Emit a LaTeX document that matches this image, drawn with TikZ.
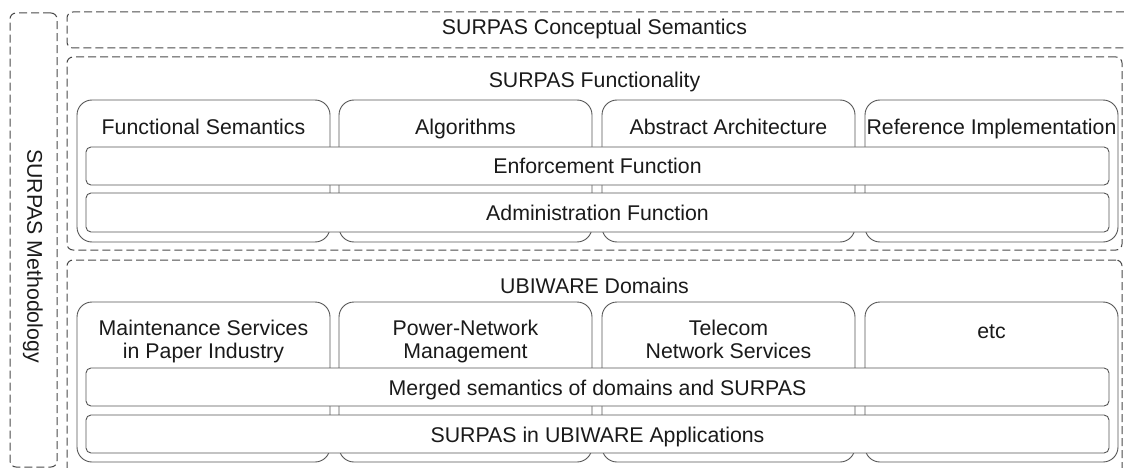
\documentclass[tikz,border=0pt]{standalone}
\usepackage{fontspec}
\setmainfont{Liberation Sans}
\definecolor{linec}{HTML}{555555}
\definecolor{dashc}{HTML}{4A4A4A}
\definecolor{txtc}{HTML}{1A1A1A}
\begin{document}
\begin{tikzpicture}[x=1pt,y=-1pt,
  base/.style={inner sep=0pt, outer sep=0pt, anchor=north west},
  dbox/.style={base, draw=dashc, dash pattern=on 8pt off 4pt, rounded corners=6pt, line width=1pt},
  col/.style={base, draw=linec, fill=white, rounded corners=15pt, line width=0.9pt, minimum width=253pt},
  bar/.style={base, draw=linec, fill=white, rounded corners=5pt, line width=0.9pt, minimum width=1023pt},
  txt/.style={text=txtc, font=\fontsize{21.3}{23}\selectfont, inner sep=0pt, outer sep=0pt, anchor=base, align=center}]
\useasboundingbox (0,0) rectangle (1124,468);
% dashed frames
\node[dbox, minimum width=47pt, minimum height=454pt] (meth) at (10,13) {};
\node[dbox, minimum width=1075pt, minimum height=36pt] (concept) at (67,12) {};
\node[dbox, minimum width=1055pt, minimum height=193pt] (func) at (67,57) {};
\node[dbox, minimum width=1055pt, minimum height=215pt] (dom) at (67,260) {};
% functionality columns
\node[col, minimum height=142pt] (fc1) at (77,100) {};
\node[col, minimum height=142pt] (fc2) at (339,100) {};
\node[col, minimum height=142pt] (fc3) at (602,100) {};
\node[col, minimum height=142pt] (fc4) at (865,100) {};
\node[bar, minimum height=38pt] (enf) at (86,147) {};
\node[bar, minimum height=39pt] (adm) at (86,193) {};
% domain columns
\node[col, minimum height=160pt] (dc1) at (77,302) {};
\node[col, minimum height=160pt] (dc2) at (339,302) {};
\node[col, minimum height=160pt] (dc3) at (602,302) {};
\node[col, minimum height=160pt] (dc4) at (865,302) {};
\node[bar, minimum height=38pt] (mrg) at (86,368) {};
\node[bar, minimum height=38pt] (app) at (86,415) {};
% texts
\node[txt, rotate=-90, anchor=center] (tmeth) at (33,256) {SURPAS Methodology};
\node[txt] (tconcept) at (594.5,35) {SURPAS Conceptual Semantics};
\node[txt] (tfunc) at (594.5,88) {SURPAS Functionality};
\node[txt] (tdom) at (594.5,293) {UBIWARE Domains};
\node[txt] (tfc1) at (203.5,135) {Functional Semantics};
\node[txt] (tfc2) at (465.5,135) {Algorithms};
\node[txt] (tfc3) at (728.5,135) {Abstract Architecture};
\node[txt] (tfc4) at (991.5,135) {Reference Implementation};
\node[txt] (tenf) at (597.5,173) {Enforcement Function};
\node[txt] (tadm) at (597.5,220) {Administration Function};
\node[txt] (tdc1) at (203.5,358) {Maintenance Services\\in Paper Industry};
\node[txt] (tdc2) at (465.5,358) {Power-Network\\Management};
\node[txt] (tdc3) at (728.5,358) {Telecom\\Network Services};
\node[txt] (tdc4) at (991.5,338) {etc};
\node[txt] (tmrg) at (597.5,395) {Merged semantics of domains and SURPAS};
\node[txt] (tapp) at (597.5,442) {SURPAS in UBIWARE Applications};
\end{tikzpicture}
\end{document}
